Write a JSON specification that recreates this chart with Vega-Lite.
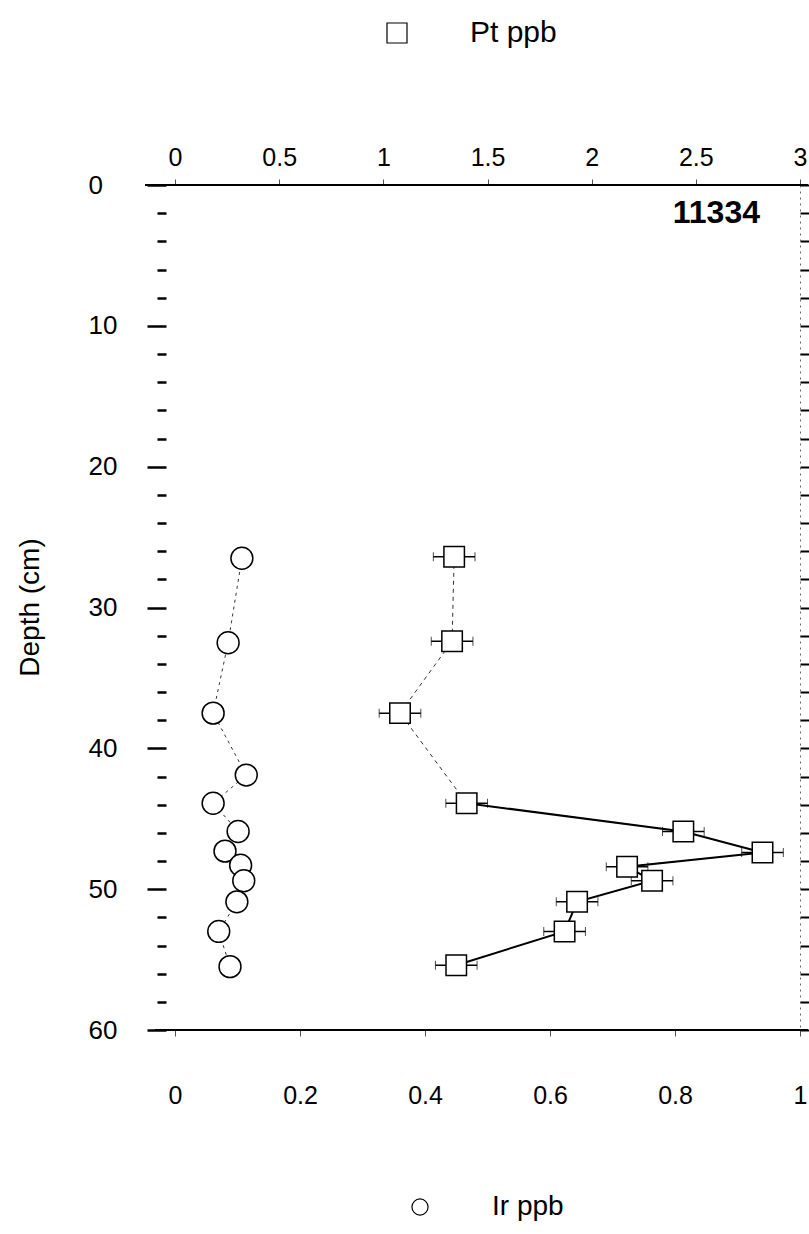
{
  "$schema": "https://vega.github.io/schema/vega-lite/v6.json",
  "width": 634,
  "height": 845,
  "autosize": {"type": "none"},
  "padding": {"left": 166, "top": 185, "right": 9, "bottom": 204},
  "background": "white",
  "config": {
    "font": "Liberation Sans",
    "view": {"stroke": null},
    "axis": {"labelFont": "Liberation Sans", "titleFont": "Liberation Sans", "labelColor": "black", "titleColor": "black", "titleFontWeight": "normal", "grid": false},
    "legend": {"labelFont": "Liberation Sans", "labelColor": "black"}
  },
  "datasets": {
    "ir": [
      {"depth": 26.5, "ir": 0.107, "series": "Ir ppb"},
      {"depth": 32.5, "ir": 0.085, "series": "Ir ppb"},
      {"depth": 37.5, "ir": 0.061, "series": "Ir ppb"},
      {"depth": 41.9, "ir": 0.114, "series": "Ir ppb"},
      {"depth": 43.9, "ir": 0.061, "series": "Ir ppb"},
      {"depth": 45.9, "ir": 0.101, "series": "Ir ppb"},
      {"depth": 47.3, "ir": 0.080, "series": "Ir ppb"},
      {"depth": 48.3, "ir": 0.105, "series": "Ir ppb"},
      {"depth": 49.4, "ir": 0.110, "series": "Ir ppb"},
      {"depth": 50.9, "ir": 0.099, "series": "Ir ppb"},
      {"depth": 53.0, "ir": 0.070, "series": "Ir ppb"},
      {"depth": 55.5, "ir": 0.088, "series": "Ir ppb"}
    ],
    "pt": [
      {"depth": 26.4, "pt": 1.34, "err": 0.1, "series": "Pt ppb"},
      {"depth": 32.4, "pt": 1.33, "err": 0.1, "series": "Pt ppb"},
      {"depth": 37.5, "pt": 1.08, "err": 0.1, "series": "Pt ppb"},
      {"depth": 43.9, "pt": 1.40, "err": 0.1, "series": "Pt ppb"},
      {"depth": 45.9, "pt": 2.44, "err": 0.1, "series": "Pt ppb"},
      {"depth": 47.4, "pt": 2.82, "err": 0.1, "series": "Pt ppb"},
      {"depth": 48.4, "pt": 2.17, "err": 0.1, "series": "Pt ppb"},
      {"depth": 49.4, "pt": 2.29, "err": 0.1, "series": "Pt ppb"},
      {"depth": 50.9, "pt": 1.93, "err": 0.1, "series": "Pt ppb"},
      {"depth": 53.0, "pt": 1.87, "err": 0.1, "series": "Pt ppb"},
      {"depth": 55.4, "pt": 1.35, "err": 0.1, "series": "Pt ppb"}
    ]
  },
  "resolve": {
    "scale": {"x": "independent", "shape": "independent", "stroke": "independent"},
    "axis": {"x": "independent", "y": "independent"},
    "legend": {"shape": "independent", "stroke": "independent"}
  },
  "layer": [
    {
      "layer": [
        {
          "data": {"values": [{}]},
          "mark": {"type": "rule", "color": "black", "strokeWidth": 2},
          "encoding": {
            "x": {"datum": -0.048, "type": "quantitative", "title": null,
              "scale": {"domain": [-0.0144, 1.0], "nice": false, "zero": false},
              "axis": {"orient": "bottom", "values": [0, 0.2, 0.4, 0.6, 0.8, 1], "tickCount": 100, "format": "~g", "domain": false, "ticks": true, "tickSize": 6, "tickColor": "#555555", "tickWidth": 1, "labelFontSize": 25, "labelPadding": 47, "labelFlush": false, "labelOverlap": false, "title": null}},
            "x2": {"datum": 1.0128},
            "y": {"datum": 0, "type": "quantitative", "title": "Depth (cm)",
              "scale": {"domain": [0, 60], "reverse": true, "nice": false, "zero": false},
              "axis": {"orient": "left", "values": [0,2,4,6,8,10,12,14,16,18,20,22,24,26,28,30,32,34,36,38,40,42,44,46,48,50,52,54,56,58,60],
                "tickCount": 100, "format": "~g",
                "domain": false, "tickColor": "black", "tickWidth": 2.5,
                "tickSize": {"condition": {"test": "datum.value % 10 === 0", "value": 19}, "value": 9},
                "labelExpr": "datum.value % 10 === 0 ? datum.label : ''",
                "labelOverlap": false,
                "labelAlign": "left", "labelBaseline": "middle", "labelPadding": 59, "labelFontSize": 26,
                "title": "Depth (cm)", "titleFontSize": 28, "titleX": -136, "titleY": 422, "titleAngle": -90, "titleBaseline": "middle", "titleAlign": "center"}}
          }
        },
        {
          "data": {"values": [{}]},
          "mark": {"type": "rule", "color": "black", "strokeWidth": 2},
          "encoding": {
            "x": {"datum": -0.032, "type": "quantitative", "title": null},
            "x2": {"datum": 1.0128},
            "y": {"datum": 60, "type": "quantitative", "title": "Depth (cm)"}
          }
        },
        {
          "data": {"name": "ir"},
          "mark": {"type": "line", "color": "#333333", "strokeWidth": 1, "strokeDash": [3, 4]},
          "encoding": {
            "x": {"field": "ir", "type": "quantitative", "title": null},
            "y": {"field": "depth", "type": "quantitative", "title": "Depth (cm)"},
            "order": {"field": "depth"}
          }
        },
        {
          "data": {"name": "ir"},
          "mark": {"type": "point", "filled": false, "fill": "white", "fillOpacity": 1, "strokeWidth": 1.5, "size": 480, "opacity": 1},
          "encoding": {
            "x": {"field": "ir", "type": "quantitative", "title": null},
            "y": {"field": "depth", "type": "quantitative", "title": "Depth (cm)"},
            "shape": {"field": "series", "type": "nominal",
              "scale": {"range": ["circle"]},
              "legend": {"orient": "none", "legendX": 240, "legendY": 1008, "title": null, "padding": 0,
                "labelFontSize": 28, "labelOffset": 58, "symbolSize": 260, "symbolStrokeWidth": 1.2}},
            "stroke": {"field": "series", "type": "nominal",
              "scale": {"range": ["black"]},
              "legend": {"orient": "none", "legendX": 240, "legendY": 1008, "title": null, "padding": 0,
                "labelFontSize": 28, "labelOffset": 58, "symbolSize": 260, "symbolStrokeWidth": 1.2}}
          }
        },
        {
          "data": {"values": [{}]},
          "mark": {"type": "text", "text": "11334", "align": "right", "baseline": "middle", "fontSize": 32, "fontWeight": "bold", "color": "black"},
          "encoding": {
            "x": {"datum": 0.936, "type": "quantitative", "title": null},
            "y": {"datum": 2.0, "type": "quantitative", "title": "Depth (cm)"}
          }
        }
      ]
    },
    {
      "data": {"name": "pt"},
      "layer": [
        {
          "mark": {"type": "line", "color": "#333333", "strokeWidth": 1, "strokeDash": [4, 4]},
          "encoding": {
            "x": {"field": "pt", "type": "quantitative", "title": null,
              "scale": {"domain": [-0.0432, 3.0], "nice": false, "zero": false},
              "axis": {"orient": "top", "values": [0, 0.5, 1, 1.5, 2, 2.5, 3], "tickCount": 100, "format": "~g", "domain": false, "tickSize": 6, "tickColor": "#555555", "tickWidth": 1, "labelFontSize": 25, "labelPadding": 9, "labelFlush": false, "labelOverlap": false, "title": null}},
            "y": {"field": "depth", "type": "quantitative", "title": null,
              "axis": {"orient": "right", "values": [0,2,4,6,8,10,12,14,16,18,20,22,24,26,28,30,32,34,36,38,40,42,44,46,48,50,52,54,56,58,60],
                "tickCount": 100,
                "domain": true, "domainColor": "#666666", "domainDash": [2, 4], "domainWidth": 1,
                "tickColor": "black", "tickWidth": 2,
                "tickSize": {"condition": {"test": "datum.value % 10 === 0", "value": 14}, "value": 9},
                "labels": false, "title": null}},
            "order": {"field": "depth"}
          }
        },
        {
          "transform": [{"filter": "datum.depth >= 43"}],
          "mark": {"type": "line", "color": "black", "strokeWidth": 2},
          "encoding": {
            "x": {"field": "pt", "type": "quantitative", "title": null},
            "y": {"field": "depth", "type": "quantitative", "title": null},
            "order": {"field": "depth"}
          }
        },
        {
          "mark": {"type": "errorbar", "orient": "horizontal", "ticks": {"size": 9, "color": "black", "strokeWidth": 1.5}, "rule": {"color": "black", "strokeWidth": 1.5}},
          "encoding": {
            "x": {"field": "pt", "type": "quantitative", "title": null},
            "xError": {"field": "err"},
            "y": {"field": "depth", "type": "quantitative", "title": null}
          }
        },
        {
          "mark": {"type": "point", "filled": false, "fill": "white", "fillOpacity": 1, "strokeWidth": 1.5, "size": 420, "opacity": 1},
          "encoding": {
            "x": {"field": "pt", "type": "quantitative", "title": null},
            "y": {"field": "depth", "type": "quantitative", "title": null},
            "shape": {"field": "series", "type": "nominal",
              "scale": {"range": ["square"]},
              "legend": {"orient": "none", "legendX": 216, "legendY": -167, "title": null, "padding": 0,
                "labelFontSize": 30, "labelOffset": 58, "symbolSize": 400, "symbolStrokeWidth": 1.2}},
            "stroke": {"field": "series", "type": "nominal",
              "scale": {"range": ["black"]},
              "legend": {"orient": "none", "legendX": 216, "legendY": -167, "title": null, "padding": 0,
                "labelFontSize": 30, "labelOffset": 58, "symbolSize": 400, "symbolStrokeWidth": 1.2}}
          }
        }
      ]
    }
  ]
}
